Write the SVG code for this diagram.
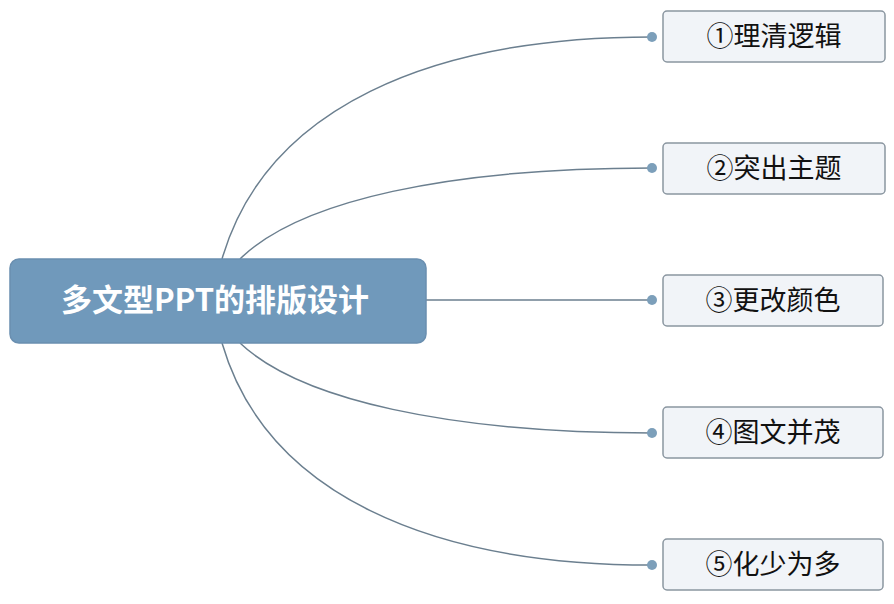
<svg xmlns="http://www.w3.org/2000/svg" width="894" height="604" viewBox="0 0 894 604">
<style>
.conn{fill:none;stroke:#6b7f8f;stroke-width:1.5}
.dot{fill:#7c9fba}
.leaf rect{fill:#f1f4f8;stroke:#8a96a0;stroke-width:1.5}
.leaf text{font-family:"Noto Sans CJK SC","Noto Sans",sans-serif;font-size:27px;fill:#111;text-anchor:middle}
.root rect{fill:#7099bb;stroke:#6a8fb0;stroke-width:1.5}
.root text{font-family:"Noto Sans CJK SC","Noto Sans",sans-serif;font-size:31px;font-weight:bold;fill:#fff;text-anchor:middle}
</style>
<rect width="894" height="604" fill="#fff"/>
<g id="connectors">
<path class="conn" d="M222,259 C266,108 430,37 652,37"/>
<path class="conn" d="M240,259 C300,200 450,168 652,168"/>
<path class="conn" d="M426,300 L652,300"/>
<path class="conn" d="M240,343 C300,400 450,433 652,433"/>
<path class="conn" d="M222,343 C266,494 430,565 652,565"/>
<circle class="dot" cx="652" cy="37" r="5"/>
<circle class="dot" cx="652" cy="168" r="5"/>
<circle class="dot" cx="652" cy="300" r="5"/>
<circle class="dot" cx="652" cy="433" r="5"/>
<circle class="dot" cx="652" cy="565" r="5"/>
</g>
<g id="root" class="root">
<rect x="10" y="259" width="416" height="84" rx="9"/>
<text x="215" y="311">多文型PPT的排版设计</text>
</g>
<g id="n1" class="leaf">
<rect x="663" y="11" width="222" height="51" rx="4"/>
<text x="774" y="46">①理清逻辑</text>
</g>
<g id="n2" class="leaf">
<rect x="663" y="143" width="222" height="51" rx="4"/>
<text x="774" y="178">②突出主题</text>
</g>
<g id="n3" class="leaf">
<rect x="663" y="275" width="220" height="51" rx="4"/>
<text x="773" y="310">③更改颜色</text>
</g>
<g id="n4" class="leaf">
<rect x="663" y="407" width="220" height="51" rx="4"/>
<text x="773" y="442">④图文并茂</text>
</g>
<g id="n5" class="leaf">
<rect x="663" y="539" width="220" height="51" rx="4"/>
<text x="773" y="574">⑤化少为多</text>
</g>
</svg>
